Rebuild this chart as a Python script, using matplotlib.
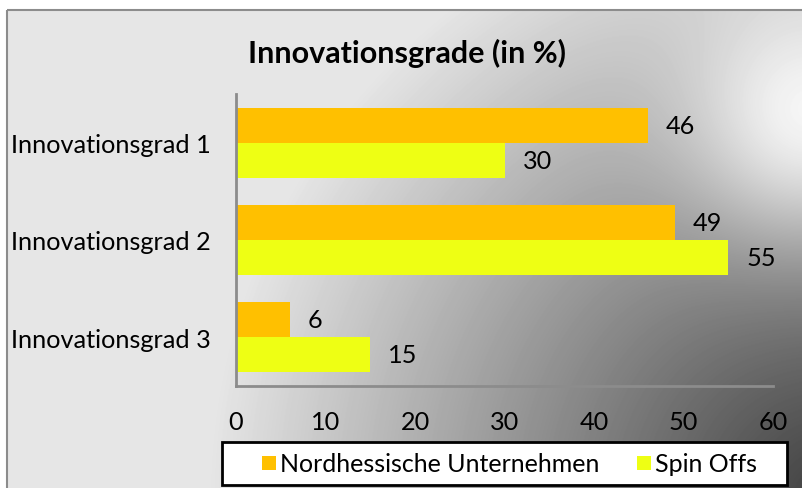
import numpy as np
import matplotlib.pyplot as plt
from matplotlib.patches import Rectangle

# --------------------------------------------------------------
# Data
# --------------------------------------------------------------
categories = ["Innovationsgrad 1", "Innovationsgrad 2", "Innovationsgrad 3"]
nordhessen = [46, 49, 6]
spin_offs = [30, 55, 15]
series_names = ["Nordhessische Unternehmen", "Spin Offs"]
x_ticks = [0, 10, 20, 30, 40, 50, 60]

c_orange = "#FFC000"
c_yellow = "#EEFF14"

plt.rcParams["font.family"] = ["Lato", "DejaVu Sans"]

W, H = 802, 489
fig = plt.figure(figsize=(W / 100, H / 100), dpi=100)

# --------------------------------------------------------------
# Background (gray gradient, frame)
# --------------------------------------------------------------
bg = fig.add_axes([0, 0, 1, 1], zorder=0)
yy, xx = np.mgrid[0:H, 0:W]
d = np.hypot(xx - 830, yy - 500)
v = 0.25 + 0.65 * np.clip(d / 620, 0, 1)
glow = np.exp(-((xx - 810) ** 2 + (yy - 110) ** 2) / (2 * 90 ** 2))
v = v + (0.96 - v) * glow
v[(xx < 7) | (yy < 11)] = 1.0
bg.imshow(v, cmap="gray", vmin=0, vmax=1, extent=[0, W, H, 0],
          aspect="auto", interpolation="bilinear")
bg.set_xlim(0, W)
bg.set_ylim(H, 0)
bg.axis("off")
bg.add_patch(Rectangle((7, 11), W, H, fill=False, edgecolor="#8c8c8c", lw=1.5))

# --------------------------------------------------------------
# Bars
# --------------------------------------------------------------
fs = 18.2
ax = fig.add_axes([236 / W, 1 - 387 / H, (773 - 236) / W, (387 - 95) / H], zorder=1)
ax.patch.set_alpha(0)
y = np.arange(len(categories))
h = 0.36
b1 = ax.barh(y - h / 2, nordhessen, height=h, color=c_orange)
b2 = ax.barh(y + h / 2, spin_offs, height=h, color=c_yellow)
ax.bar_label(b1, padding=13, fontsize=fs)
ax.bar_label(b2, padding=13, fontsize=fs)
ax.set_ylim(2.5, -0.5)
ax.set_xlim(0, 60)
ax.set_xticks(x_ticks)
ax.set_yticks(y, categories)
ax.tick_params(length=0, labelsize=fs)
ax.tick_params(axis="x", pad=17)
ax.tick_params(axis="y", pad=18)
for s in ["top", "right"]:
    ax.spines[s].set_visible(False)
for s in ["left", "bottom"]:
    ax.spines[s].set_color("#8c8c8c")
    ax.spines[s].set_linewidth(2)

fig.text(407 / W, 1 - 53 / H, "Innovationsgrade (in %)", ha="center", va="center",
         fontsize=22, fontweight="bold")

# --------------------------------------------------------------
# Legend (drawn by hand)
# --------------------------------------------------------------
bg.add_patch(Rectangle((222, 443), 565, 43, facecolor="white", edgecolor="black", lw=2, zorder=3))
for x0, col, name in [(262, c_orange, series_names[0]), (637, c_yellow, series_names[1])]:
    bg.add_patch(Rectangle((x0, 457), 14, 14, facecolor=col, edgecolor="none", zorder=4))
    bg.text(x0 + 18, 464, name, fontsize=18, va="center", ha="left", zorder=5)

fig.savefig("out.png", dpi=100)
